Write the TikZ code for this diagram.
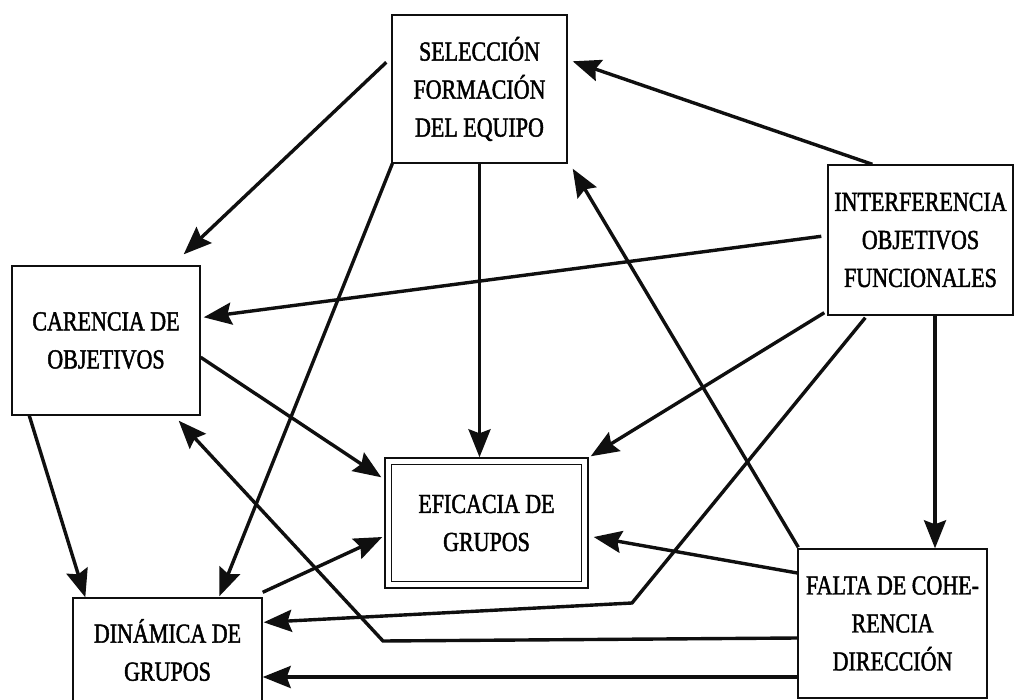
\documentclass[tikz,border=0pt]{standalone}
\usepackage{fontspec}
\setmainfont{Liberation Serif}[FakeStretch=0.80,FakeBold=1.6]
\usepackage{xcolor}
\usepackage{tikz}
\usetikzlibrary{arrows.meta,positioning}
\definecolor{tinta}{RGB}{15,15,15}

\begin{document}
\begin{tikzpicture}[x=1pt,y=-1pt,
    caja/.style={draw=tinta, line width=1.4pt, align=center, inner sep=0pt,
                 font=\fontsize{27.5}{38}\selectfont},
    flecha/.style={tinta, line width=3.4pt,
                   -{Stealth[length=28pt,width=22pt,inset=4pt]}}]
                % Frame
                \useasboundingbox (0,0) rectangle (1014,700);
                \clip (0,0) rectangle (1014,700);
                \fill[white] (0,0) rectangle (1014,700);
                % Boxes
                \node[caja, minimum width=175pt, minimum height=148pt] (sel) at (479.5,89) {SELECCIÓN\\FORMACIÓN\\DEL EQUIPO};
                \node[caja, minimum width=185pt, minimum height=150pt] (int) at (920.5,240) {INTERFERENCIA\\OBJETIVOS\\FUNCIONALES};
                \node[caja, minimum width=188pt, minimum height=149pt] (car) at (106,340.5) {CARENCIA DE\\OBJETIVOS};
                \node[caja, minimum width=203pt, minimum height=130pt] (ef) at (486.5,523) {EFICACIA DE\\GRUPOS};
                \draw[tinta, line width=1.4pt] ([shift={(7,7)}]ef.north west) rectangle ([shift={(-7,-7)}]ef.south east);
                \node[caja, minimum width=189pt, minimum height=149pt] (fal) at (892.5,623.5) {FALTA DE COHE-\\RENCIA\\DIRECCIÓN};
                \node[caja, minimum width=189pt, minimum height=104pt] (din) at (167.5,650) {DINÁMICA DE\\GRUPOS};
                % Arrows out of SEL
                \draw[flecha] ([shift={(-5,48)}]sel.north west) -- ([shift={(-17,-11)}]car.north east);
                \draw[flecha] (sel.south) -- (sel.south |- ef.north);
                \draw[flecha] ([shift={(1,0)}]sel.south west) -- ([shift={(147,-1)}]din.north west);
                % Arrows out of INT
                \draw[flecha] ([shift={(45,0)}]int.north west) -- ([shift={(5,47)}]sel.north east);
                \draw[flecha] ([shift={(-6,72)}]int.north west) -- ([shift={(3,52)}]car.north east);
                \draw[flecha] ([shift={(-3,-3)}]int.south west) -- ([shift={(2,-1)}]ef.north east);
                \draw[flecha] ([xshift=14.5pt]int.south) -- ([xshift=14.5pt]int.south |- fal.north);
                \draw[flecha] ([shift={(38,2)}]int.south west) -- (632,603) -- ([shift={(1,25)}]din.north east);
                % Arrows out of CAR
                \draw[flecha] ([shift={(0,92)}]car.north east) -- ([shift={(-3,20)}]ef.north west);
                \draw[flecha] ([shift={(18,0)}]car.south west) -- ([shift={(13,0)}]din.north west);
                % Arrows out of FAL
                \draw[flecha] ([shift={(1,-1)}]fal.north west) -- ([shift={(5,5)}]sel.south east);
                \draw[flecha] ([shift={(0,-50.5)}]fal.west) -- ([shift={(5,14)}]ef.east);
                \draw[flecha] ([shift={(0,14.5)}]fal.west) -- (383,641) -- ([shift={(-22,5)}]car.south east);
                \draw[flecha] ([shift={(0,53.5)}]fal.west) -- ([shift={(0,27)}]din.east);
                % Arrow out of DIN
                \draw[flecha] ([shift={(0,-5)}]din.north east) -- ([shift={(-2,14)}]ef.west);
            \end{tikzpicture}
\end{document}
